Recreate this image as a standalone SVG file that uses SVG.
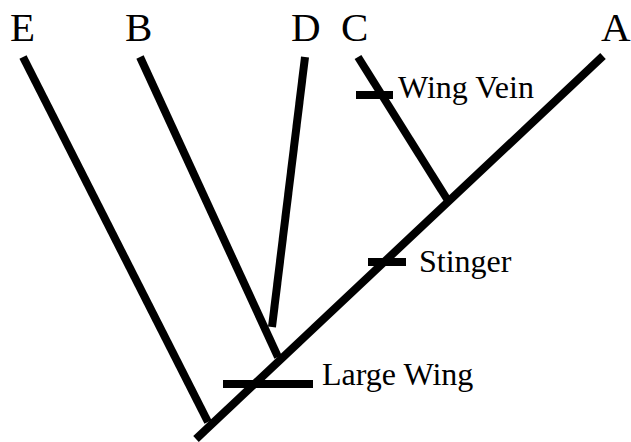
<svg xmlns="http://www.w3.org/2000/svg" width="631" height="442" viewBox="0 0 631 442">
<style>
.br{stroke:#000;stroke-width:8;fill:none;stroke-linecap:butt}
.tk{stroke:#000;stroke-width:8;fill:none}
</style>
<rect width="631" height="442" fill="#fff"/>
<g id="connectors">
<line class="br" x1="603" y1="56" x2="196" y2="439"/>
<line class="br" x1="23" y1="57" x2="208" y2="422"/>
<line class="br" x1="140" y1="57" x2="278" y2="357"/>
<line class="br" x1="305" y1="57" x2="272" y2="327"/>
<line class="br" x1="358" y1="57" x2="447" y2="199"/>
</g>
<g font-family="Liberation Serif, Times New Roman, serif" fill="#000">
<g id="E"><text font-size="41" x="10" y="41">E</text></g>
<g id="B"><text font-size="41" x="125" y="41">B</text></g>
<g id="D"><text font-size="41" x="291" y="41">D</text></g>
<g id="C"><text font-size="41" x="341" y="41">C</text></g>
<g id="A"><text font-size="41" x="601" y="41">A</text></g>
<g id="wingvein"><line class="tk" x1="356" y1="95" x2="393" y2="95"/><text font-size="32" x="398" y="98">Wing Vein</text></g>
<g id="stinger"><line class="tk" x1="368" y1="262" x2="406" y2="262"/><text font-size="32" x="419" y="272">Stinger</text></g>
<g id="largewing"><line class="tk" x1="223" y1="384" x2="313" y2="384"/><text font-size="32" x="322" y="385">Large Wing</text></g>
</g>
</svg>
